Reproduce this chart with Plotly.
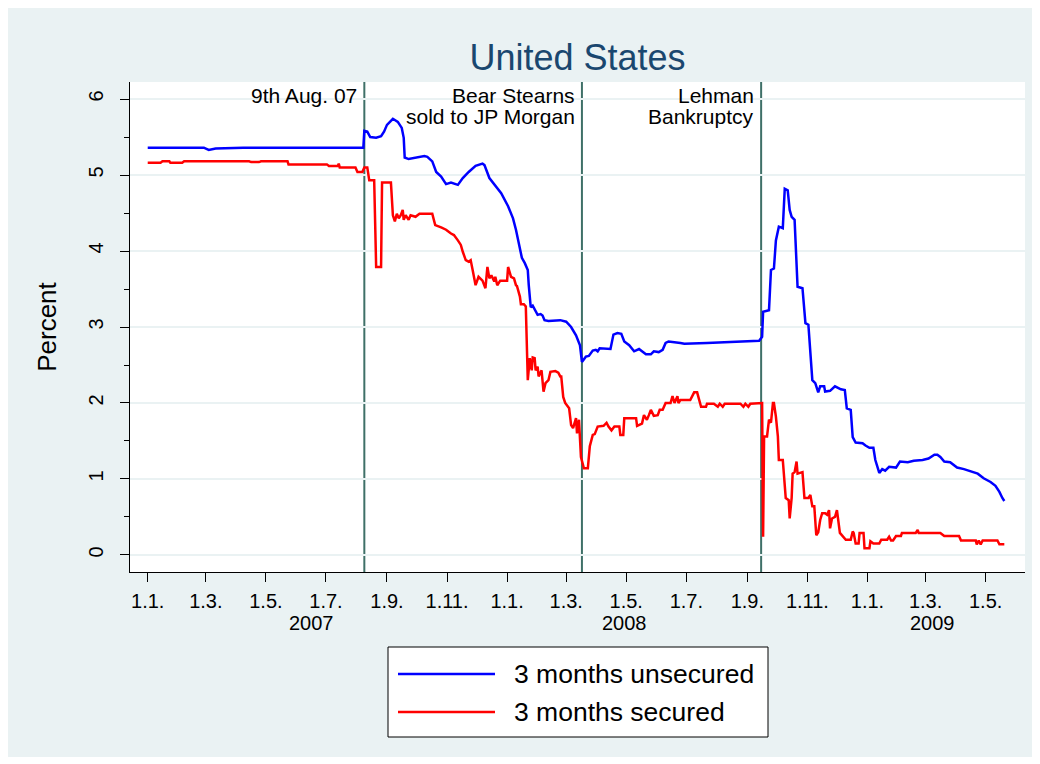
import plotly.graph_objects as go

COLOUR_UNSECURED = "#0000FF"   # blue - 3 months unsecured
COLOUR_SECURED = "#FF0000"     # red - 3 months secured
COLOUR_EVENT = "#3F7068"       # dark teal - event marker lines
COLOUR_BACKGROUND = "#EAF2F3"  # light bluish grey - graph region
COLOUR_GRID = "#EAF2F3"
COLOUR_TITLE = "#1A476F"
FONT_FAMILY = "Liberation Sans, Arial, sans-serif"

WIDTH, HEIGHT = 1025, 749
MARGIN = dict(l=122, r=8, t=74, b=185)
PLOT_W = WIDTH - MARGIN["l"] - MARGIN["r"]
PLOT_H = HEIGHT - MARGIN["t"] - MARGIN["b"]

# 3 months unsecured (percent)
UNSECURED_DATES = [
    "2007-01-01", "2007-02-27", "2007-03-04", "2007-03-11", "2007-04-08", "2007-08-08",
    "2007-08-09", "2007-08-12", "2007-08-15", "2007-08-21", "2007-08-26", "2007-08-29",
    "2007-09-01", "2007-09-07", "2007-09-12", "2007-09-16", "2007-09-18", "2007-09-19",
    "2007-09-23", "2007-09-30", "2007-10-09", "2007-10-12", "2007-10-17", "2007-10-21",
    "2007-10-26", "2007-10-31", "2007-11-05", "2007-11-12", "2007-11-17", "2007-11-23",
    "2007-11-30", "2007-12-07", "2007-12-09", "2007-12-14", "2007-12-19", "2007-12-26",
    "2008-01-02", "2008-01-07", "2008-01-10", "2008-01-12", "2008-01-14", "2008-01-16",
    "2008-01-19", "2008-01-22", "2008-01-23", "2008-01-24", "2008-01-25", "2008-01-27",
    "2008-01-30", "2008-02-01", "2008-02-04", "2008-02-06", "2008-02-08", "2008-02-12",
    "2008-02-24", "2008-03-01", "2008-03-06", "2008-03-11", "2008-03-15", "2008-03-17",
    "2008-03-21", "2008-03-24", "2008-03-28", "2008-03-31", "2008-04-02", "2008-04-04",
    "2008-04-15", "2008-04-18", "2008-04-22", "2008-04-26", "2008-04-29", "2008-05-04",
    "2008-05-09", "2008-05-14", "2008-05-17", "2008-05-21", "2008-05-26", "2008-05-29",
    "2008-06-03", "2008-06-07", "2008-06-10", "2008-06-13", "2008-06-25", "2008-06-29",
    "2008-07-22", "2008-08-13", "2008-09-04", "2008-09-13", "2008-09-16", "2008-09-17",
    "2008-09-23", "2008-09-25", "2008-09-28", "2008-09-30", "2008-10-03", "2008-10-07",
    "2008-10-09", "2008-10-12", "2008-10-14", "2008-10-16", "2008-10-19", "2008-10-22",
    "2008-10-27", "2008-10-30", "2008-11-02", "2008-11-06", "2008-11-09", "2008-11-12",
    "2008-11-14", "2008-11-18", "2008-11-19", "2008-11-24", "2008-11-29", "2008-12-05",
    "2008-12-09", "2008-12-11", "2008-12-15", "2008-12-17", "2008-12-20", "2008-12-27",
    "2008-12-30", "2009-01-03", "2009-01-07", "2009-01-09", "2009-01-13", "2009-01-16",
    "2009-01-19", "2009-01-23", "2009-01-30", "2009-02-03", "2009-02-11", "2009-02-17",
    "2009-02-26", "2009-03-04", "2009-03-10", "2009-03-13", "2009-03-16", "2009-03-20",
    "2009-03-26", "2009-04-02", "2009-04-09", "2009-04-16", "2009-04-23", "2009-04-29",
    "2009-05-06", "2009-05-11", "2009-05-15", "2009-05-18", "2009-05-20",
]
UNSECURED_RATES = [
    5.36, 5.36, 5.33, 5.35, 5.36, 5.36,
    5.58, 5.57, 5.50, 5.49, 5.51, 5.57,
    5.66, 5.74, 5.70, 5.62, 5.49, 5.23,
    5.21, 5.23, 5.25, 5.24, 5.18, 5.04,
    4.98, 4.88, 4.90, 4.87, 4.96, 5.04,
    5.12, 5.15, 5.13, 4.96, 4.87, 4.76,
    4.59, 4.43, 4.28, 4.14, 4.01, 3.91,
    3.84, 3.75, 3.55, 3.36, 3.26, 3.28,
    3.21, 3.16, 3.17, 3.15, 3.09, 3.08,
    3.09, 3.07, 3.00, 2.89, 2.76, 2.54,
    2.61, 2.62, 2.69, 2.70, 2.68, 2.72,
    2.71, 2.90, 2.92, 2.91, 2.81, 2.76,
    2.68, 2.71, 2.68, 2.64, 2.64, 2.68,
    2.67, 2.70, 2.79, 2.81, 2.79, 2.78,
    2.79, 2.80, 2.81, 2.82, 2.87, 3.20,
    3.22, 3.75, 3.77, 4.14, 4.32, 4.30,
    4.82, 4.80, 4.54, 4.45, 4.41, 3.53,
    3.51, 3.05, 3.03, 2.30, 2.26, 2.14,
    2.22, 2.22, 2.15, 2.16, 2.22, 2.18,
    2.17, 1.93, 1.91, 1.55, 1.48, 1.47,
    1.44, 1.41, 1.41, 1.25, 1.08, 1.13,
    1.11, 1.16, 1.15, 1.23, 1.22, 1.24,
    1.25, 1.27, 1.32, 1.32, 1.29, 1.23,
    1.22, 1.15, 1.13, 1.10, 1.07, 1.01,
    0.96, 0.91, 0.83, 0.75, 0.71,
]

# 3 months secured (percent)
SECURED_DATES = [
    "2007-01-01", "2007-01-14", "2007-01-16", "2007-01-23", "2007-01-24", "2007-02-05",
    "2007-02-07", "2007-04-14", "2007-04-16", "2007-04-24", "2007-04-26", "2007-05-23",
    "2007-05-24", "2007-07-02", "2007-07-04", "2007-07-13", "2007-07-14", "2007-07-15",
    "2007-07-31", "2007-08-02", "2007-08-07", "2007-08-09", "2007-08-12", "2007-08-14",
    "2007-08-19", "2007-08-21", "2007-08-26", "2007-08-27", "2007-09-05", "2007-09-07",
    "2007-09-09", "2007-09-11", "2007-09-13", "2007-09-15", "2007-09-17", "2007-09-18",
    "2007-09-20", "2007-09-23", "2007-09-25", "2007-09-30", "2007-10-04", "2007-10-17",
    "2007-10-19", "2007-10-20", "2007-10-26", "2007-10-31", "2007-11-05", "2007-11-08",
    "2007-11-12", "2007-11-15", "2007-11-17", "2007-11-20", "2007-11-23", "2007-11-25",
    "2007-11-27", "2007-11-30", "2007-12-03", "2007-12-07", "2007-12-10", "2007-12-12",
    "2007-12-14", "2007-12-16", "2007-12-19", "2007-12-20", "2007-12-22", "2007-12-25",
    "2008-01-01", "2008-01-02", "2008-01-05", "2008-01-08", "2008-01-10", "2008-01-11",
    "2008-01-14", "2008-01-15", "2008-01-18", "2008-01-20", "2008-01-22", "2008-01-24",
    "2008-01-26", "2008-01-27", "2008-01-29", "2008-01-30", "2008-02-01", "2008-02-02",
    "2008-02-05", "2008-02-07", "2008-02-09", "2008-02-12", "2008-02-14", "2008-02-19",
    "2008-02-22", "2008-02-24", "2008-02-25", "2008-02-27", "2008-02-29", "2008-03-04",
    "2008-03-06", "2008-03-08", "2008-03-11", "2008-03-12", "2008-03-14", "2008-03-16",
    "2008-03-19", "2008-03-23", "2008-03-25", "2008-03-28", "2008-03-30", "2008-04-02",
    "2008-04-08", "2008-04-11", "2008-04-13", "2008-04-16", "2008-04-19", "2008-04-24",
    "2008-04-25", "2008-04-28", "2008-04-29", "2008-05-11", "2008-05-12", "2008-05-17",
    "2008-05-19", "2008-05-22", "2008-05-24", "2008-05-26", "2008-05-29", "2008-06-02",
    "2008-06-04", "2008-06-07", "2008-06-10", "2008-06-15", "2008-06-17", "2008-06-19",
    "2008-06-22", "2008-06-23", "2008-06-25", "2008-07-05", "2008-07-09", "2008-07-12",
    "2008-07-16", "2008-07-21", "2008-07-22", "2008-07-29", "2008-08-02", "2008-08-04",
    "2008-08-07", "2008-08-09", "2008-08-25", "2008-08-28", "2008-08-30", "2008-09-02",
    "2008-09-04", "2008-09-15", "2008-09-16", "2008-09-17", "2008-09-18", "2008-09-21",
    "2008-09-23", "2008-09-25", "2008-09-27", "2008-09-28", "2008-09-30", "2008-10-02",
    "2008-10-03", "2008-10-07", "2008-10-10", "2008-10-13", "2008-10-14", "2008-10-16",
    "2008-10-17", "2008-10-19", "2008-10-21", "2008-10-22", "2008-10-27", "2008-10-29",
    "2008-11-02", "2008-11-04", "2008-11-06", "2008-11-08", "2008-11-10", "2008-11-12",
    "2008-11-14", "2008-11-16", "2008-11-19", "2008-11-21", "2008-11-23", "2008-11-24",
    "2008-11-26", "2008-11-29", "2008-12-01", "2008-12-04", "2008-12-07", "2008-12-10",
    "2008-12-15", "2008-12-17", "2008-12-18", "2008-12-20", "2008-12-23", "2008-12-24",
    "2008-12-28", "2008-12-29", "2009-01-03", "2009-01-04", "2009-01-07", "2009-01-13",
    "2009-01-15", "2009-01-21", "2009-01-23", "2009-01-25", "2009-01-27", "2009-01-30",
    "2009-02-04", "2009-02-05", "2009-02-19", "2009-02-21", "2009-02-22", "2009-03-16",
    "2009-03-20", "2009-04-04", "2009-04-06", "2009-04-21", "2009-04-22", "2009-04-24",
    "2009-04-26", "2009-04-28", "2009-05-13", "2009-05-15", "2009-05-20",
]
SECURED_RATES = [
    5.16, 5.16, 5.18, 5.18, 5.16, 5.16,
    5.18, 5.18, 5.17, 5.17, 5.18, 5.18,
    5.14, 5.14, 5.12, 5.12, 5.15, 5.10,
    5.10, 5.04, 5.04, 5.10, 5.10, 4.93,
    4.93, 3.79, 3.79, 4.90, 4.90, 4.47,
    4.39, 4.49, 4.43, 4.47, 4.54, 4.41,
    4.47, 4.41, 4.47, 4.45, 4.49, 4.49,
    4.39, 4.34, 4.31, 4.28, 4.23, 4.21,
    4.14, 4.08, 3.99, 3.88, 3.86, 3.88,
    3.75, 3.55, 3.66, 3.61, 3.51, 3.79,
    3.64, 3.68, 3.60, 3.66, 3.55, 3.61,
    3.61, 3.79, 3.66, 3.64, 3.55, 3.54,
    3.40, 3.30, 3.30, 3.27, 2.30, 2.59,
    2.43, 2.60, 2.59, 2.43, 2.48, 2.35,
    2.43, 2.15, 2.26, 2.30, 2.41, 2.42,
    2.40, 2.35, 2.35, 2.08, 2.00, 1.93,
    1.71, 1.67, 1.80, 1.60, 1.78, 1.29,
    1.14, 1.14, 1.43, 1.58, 1.59, 1.69,
    1.70, 1.74, 1.69, 1.64, 1.69, 1.69,
    1.58, 1.58, 1.80, 1.80, 1.70, 1.73,
    1.84, 1.78, 1.84, 1.91, 1.83, 1.84,
    1.91, 1.91, 2.00, 2.00, 2.09, 2.00,
    2.09, 2.00, 2.04, 2.04, 2.14, 2.14,
    1.95, 1.95, 1.99, 1.99, 1.95, 1.99,
    1.95, 1.99, 1.99, 1.95, 1.99, 1.95,
    1.99, 2.00, 2.00, 0.24, 1.56, 1.56,
    1.78, 1.74, 2.00, 2.00, 1.82, 1.56,
    1.25, 1.25, 0.75, 0.72, 0.48, 0.75,
    1.07, 1.09, 1.23, 1.07, 1.09, 0.75,
    0.75, 0.79, 0.64, 0.64, 0.26, 0.30,
    0.46, 0.55, 0.55, 0.53, 0.59, 0.35,
    0.48, 0.50, 0.59, 0.29, 0.24, 0.20,
    0.20, 0.31, 0.29, 0.15, 0.15, 0.29,
    0.29, 0.09, 0.09, 0.18, 0.15, 0.15,
    0.20, 0.20, 0.24, 0.19, 0.19, 0.25,
    0.25, 0.29, 0.29, 0.33, 0.29, 0.29,
    0.25, 0.25, 0.19, 0.19, 0.14, 0.19,
    0.14, 0.19, 0.19, 0.14, 0.14,
]

SERIES_NAMES = ["3 months unsecured", "3 months secured"]

EVENT_DATES = ["2007-08-09", "2008-03-17", "2008-09-15"]
EVENT_LABELS = [["9th Aug. 07"], ["Bear Stearns", "sold to JP Morgan"], ["Lehman", "Bankruptcy"]]

TICK_DATES = [
    "2007-01-01", "2007-03-01", "2007-05-01", "2007-07-01", "2007-09-01", "2007-11-01",
    "2008-01-01", "2008-03-01", "2008-05-01", "2008-07-01", "2008-09-01", "2008-11-01",
    "2009-01-01", "2009-03-01", "2009-05-01",
]
TICK_TEXT = ["1.1.", "1.3.", "1.5.", "1.7.", "1.9.", "1.11."] * 2 + ["1.1.", "1.3.", "1.5."]
YEAR_DATES = ["2007-06-16", "2008-04-29", "2009-03-08"]
YEAR_LABELS = ["2007", "2008", "2009"]

X_RANGE = ["2006-12-14", "2009-06-10"]
Y_RANGE = [-0.224, 6.224]

assert len(UNSECURED_DATES) == len(UNSECURED_RATES)
assert len(SECURED_DATES) == len(SECURED_RATES)


def _px(x):
    """Horizontal figure pixel -> paper coordinate."""
    return (x - MARGIN["l"]) / PLOT_W


def _py(y):
    """Vertical figure pixel -> paper coordinate."""
    return (HEIGHT - MARGIN["b"] - y) / PLOT_H


fig = go.Figure()

for dates, rates, name, colour in [
    (UNSECURED_DATES, UNSECURED_RATES, SERIES_NAMES[0], COLOUR_UNSECURED),
    (SECURED_DATES, SECURED_RATES, SERIES_NAMES[1], COLOUR_SECURED),
]:
    fig.add_trace(go.Scatter(
        x=dates, y=rates, mode="lines", name=name,
        line=dict(color=colour, width=2.5),
        showlegend=False,
    ))

# event lines and their labels
for date, lines in zip(EVENT_DATES, EVENT_LABELS):
    fig.add_shape(type="line", xref="x", yref="paper", layer="between",
                  x0=date, x1=date, y0=0, y1=1,
                  line=dict(color=COLOUR_EVENT, width=2))
    for i, text in enumerate(lines):
        fig.add_annotation(
            x=date, xref="x", y=_py(87 + 21.5 * i), yref="paper",
            text=text, showarrow=False, xanchor="right", yanchor="middle",
            xshift=-5, font=dict(size=21, color="black"),
        )

# year labels under the month ticks
for date, text in zip(YEAR_DATES, YEAR_LABELS):
    fig.add_annotation(
        x=date, xref="x", y=_py(615), yref="paper",
        text=text, showarrow=False, yanchor="middle",
        font=dict(size=20, color="black"),
    )

# legend drawn by hand so the sample lines are as long as in the original
fig.add_shape(type="rect", xref="paper", yref="paper",
              x0=_px(380), x1=_px(760), y0=_py(729), y1=_py(639),
              fillcolor="white", line=dict(color="black", width=1))
for i, (name, colour) in enumerate(zip(SERIES_NAMES, [COLOUR_UNSECURED, COLOUR_SECURED])):
    row_y = _py(666 + 38 * i)
    fig.add_shape(type="line", xref="paper", yref="paper",
                  x0=_px(390), x1=_px(487), y0=row_y, y1=row_y,
                  line=dict(color=colour, width=2.5))
    fig.add_annotation(
        x=_px(504), xref="paper", y=row_y, yref="paper",
        text=name, showarrow=False, xanchor="left", yanchor="middle",
        font=dict(size=26.5, color="black"),
    )

fig.update_layout(
    width=WIDTH, height=HEIGHT,
    margin=MARGIN,
    paper_bgcolor=COLOUR_BACKGROUND,
    plot_bgcolor="white",
    font=dict(family=FONT_FAMILY, size=20, color="black"),
    title=dict(text="United States", x=0.5, xref="paper", xanchor="center",
               y=1 - 49 / HEIGHT, yanchor="middle",
               font=dict(size=36, color=COLOUR_TITLE)),
    xaxis=dict(
        type="date", range=X_RANGE,
        tickvals=TICK_DATES, ticktext=TICK_TEXT,
        ticks="outside", ticklen=9, tickwidth=1.2, tickcolor="black",
        showline=True, linecolor="black", linewidth=1.2,
        showgrid=False, zeroline=False,
        tickfont=dict(size=20), ticklabelstandoff=2,
    ),
    yaxis=dict(
        range=Y_RANGE, tickvals=[0, 1, 2, 3, 4, 5, 6],
        ticks="outside", ticklen=9, tickwidth=1.2, tickcolor="black",
        tickangle=-90, tickfont=dict(size=20), ticklabelstandoff=9,
        minor=dict(dtick=0.5, ticks="outside", ticklen=5, tickwidth=1.2,
                   tickcolor="black", showgrid=False),
        showline=True, linecolor="black", linewidth=1.2,
        showgrid=True, gridcolor=COLOUR_GRID, gridwidth=2,
        zeroline=False,
        title=dict(text="Percent", font=dict(size=26), standoff=20),
    ),
)

fig.write_html("out.html")
